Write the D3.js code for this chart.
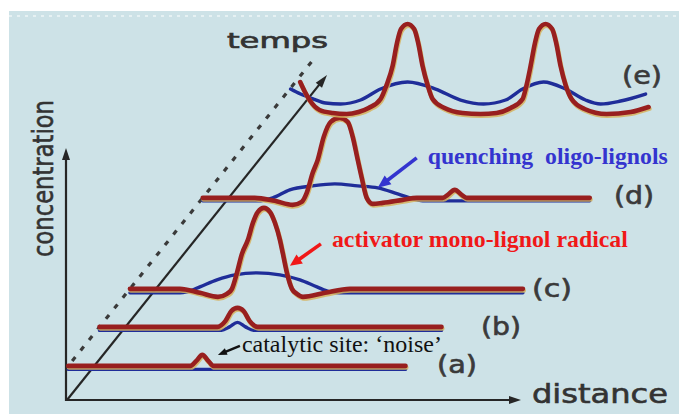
<!DOCTYPE html>
<html><head><meta charset="utf-8">
<script src="https://cdn.jsdelivr.net/npm/d3@7"></script>
<style>html,body{margin:0;padding:0;background:#fff;}svg{display:block;}</style>
</head><body>
<svg id="chart" width="679" height="414"></svg>
<script>
// ---------- data ----------
const profileLabels = ["(a)", "(b)", "(c)", "(d)", "(e)"];
const profileTimes = [1.05, 2.25, 3.42, 6.22, 8.83];           // position along the "temps" axis (0..10)

// activator (red) profiles: [distance 0..100, concentration]
const activatorA = [[0,0],[30.5,0],[32,0.5],[33.5,1.1],[35,0.5],[36.3,0],[84.3,0]];
const activatorB = [[0,0],[29.5,0],[31.5,0.6],[33,1.6],[34.5,1.9],[36,1.6],[37.5,0.6],[39.5,0],[85.5,0]];
const activatorC = [[0,0],[12.5,0],[17.5,-0.4],[22,-0.8],[24.25,-0.5],[25.5,0],[26.75,1.6],[28,3.5],[29.5,4.9],[30.75,6.6],[32,7.7],[33.5,8.1],[35,7.7],[36.25,6.6],[37.5,4.9],[38.25,3.5],[39.25,1.6],[40.5,0],[41.75,-0.5],[43.25,-0.8],[48.75,-0.4],[55,0],[98.25,0]];
const activatorD = [[0,0],[13,0],[18,-0.3],[22.5,-0.7],[24.75,-0.4],[26,0.5],[27.5,2.5],[28.75,3.8],[30.25,6.1],[32,7.6],[34.25,8],[36.25,7.6],[37.5,6.1],[38.75,3.8],[39.75,2],[41,0],[42.5,-0.6],[45,-0.5],[50,-0.2],[53.5,0],[60,0],[61.25,0.3],[63,0.8],[64.75,0.3],[66,0],[96.75,0]];
const activatorE = [[7.4,3.1],[8.6,2.1],[9.75,1.3],[12.25,0.3],[15.5,0],[19,-0.1],[22,0.1],[24.5,0.5],[27.5,1.4],[29,2.8],[30.5,4.7],[31.6,7.0],[32.6,8.4],[34.25,8.9],[35.9,8.4],[36.9,7.0],[38,4.7],[39.25,2.8],[40.5,1.4],[43.5,0.5],[48,0],[52.5,-0.1],[56.5,0],[60,0.5],[63,1.4],[64,2.8],[65,4.7],[66.1,7.0],[67.1,8.4],[68.75,8.9],[70.4,8.4],[71.4,7.0],[72.5,4.7],[73.75,2.8],[75.25,1.4],[78.5,0.4],[84,-0.1],[90,0.1],[94.5,0.6]];

// inhibitor (blue) profiles
const inhibitorA = [[0,-0.35],[84.3,-0.35]];
const inhibitorB = [[0,-0.35],[30.5,-0.35],[32.5,0],[34.5,0.45],[36.5,0],[38.5,-0.35],[85.5,-0.35]];
const inhibitorC = [[0,-0.4],[12.5,-0.4],[14.25,-0.3],[17.5,0.2],[21.75,0.9],[26.25,1.4],[31.75,1.6],[37.5,1.4],[42.5,0.9],[46.75,0.2],[50,-0.3],[52.5,-0.4],[98.25,-0.4]];
const inhibitorD = [[0,-0.3],[13.75,-0.3],[17.5,0],[21.75,0.8],[27.5,1.2],[33,1.4],[38.75,1.2],[43.75,1],[48.75,0.4],[53.5,-0.2],[55,-0.3],[96.75,-0.3]];
const inhibitorE = [[5,2.4],[7.5,1.9],[10.75,1.4],[13.75,1],[17.5,0.9],[22.5,1.3],[27.5,2.4],[34.25,3.1],[41.25,2.4],[47.5,1.3],[53.25,0.9],[58.75,1.3],[63,2.4],[68.25,3.1],[73.75,2.4],[78.75,1.3],[82.5,0.9],[87.5,1.2],[93.75,1.9]];

const axisTitles = ["concentration", "distance", "temps"];
const annotationTexts = ["quenching\u00A0\u00A0oligo-lignols", "activator mono-lignol radical", "catalytic site: \u2018noise\u2019"];
// annotation targets: [profile index, distance, concentration]
const annotationTargets = [[3, 43.75, 1.0], [2, 40, 2.3], [0, 37.4, 1.1]];

const activators = [activatorA, activatorB, activatorC, activatorD, activatorE];
const inhibitors = [inhibitorA, inhibitorB, inhibitorC, inhibitorD, inhibitorE];

// ---------- scales ----------
const tX = d3.scaleLinear().domain([0, 10]).range([67, 327]);
const tY = d3.scaleLinear().domain([0, 10]).range([400, 75]);
const timeShift = -26;                        // profiles start on the dashed guide
const xDist = d3.scaleLinear().domain([0, 100]).range([0, 400]);
const yConc = d3.scaleLinear().domain([0, 10]).range([0, -100]);

const svg = d3.select("#chart");
svg.append("rect").attr("x", 9).attr("y", 11).attr("width", 670).attr("height", 403).attr("fill", "#cde2e7");
svg.append("line").attr("x1", 9).attr("x2", 679).attr("y1", 16).attr("y2", 16)
  .attr("stroke", "#e6f1f3").attr("stroke-width", 2).attr("stroke-dasharray", "3,5");

const ink = "#262626";
function arrow(g, x1, y1, x2, y2, color, width, len, w) {
  const a = Math.atan2(y2 - y1, x2 - x1);
  const bx = x2 - len * Math.cos(a), by = y2 - len * Math.sin(a);
  g.append("line").attr("x1", x1).attr("y1", y1).attr("x2", bx + Math.cos(a)).attr("y2", by + Math.sin(a))
    .attr("stroke", color).attr("stroke-width", width);
  const px = -Math.sin(a) * w / 2, py = Math.cos(a) * w / 2;
  g.append("path").attr("d", `M${x2},${y2}L${bx + px},${by + py}L${bx - px},${by - py}Z`).attr("fill", color);
}

// ---------- axes ----------
const axes = svg.append("g");
const x0 = tX(0), y0 = tY(0);
arrow(axes, x0 - 1, y0, 521, y0, ink, 2.2, 12, 8);           // distance axis
arrow(axes, x0 - 1, y0 + 1, x0 - 1, 148, ink, 2.2, 12, 8);   // concentration axis
arrow(axes, x0, y0, tX(10), tY(10), ink, 2.2, 13, 8);        // time axis
axes.append("line")
  .attr("x1", tX(1.2) + timeShift).attr("y1", tY(1.2))
  .attr("x2", tX(10.4) + timeShift).attr("y2", tY(10.4))
  .attr("stroke", "#3a3a3a").attr("stroke-width", 3.2).attr("stroke-dasharray", "5,8.5");

const sans = "'DejaVu Sans', Verdana, sans-serif";
svg.append("text").text(axisTitles[0])
  .attr("transform", "translate(53,178.5) rotate(-90)")
  .attr("text-anchor", "middle").attr("font-family", sans).attr("font-size", 29)
  .attr("stroke", "#333").attr("stroke-width", 0.6)
  .attr("textLength", 157).attr("lengthAdjust", "spacingAndGlyphs")
  .attr("fill", "#333");
svg.append("text").text(axisTitles[1]).attr("x", 532).attr("y", 403)
  .attr("font-family", sans).attr("font-size", 26)
  .attr("stroke", "#333").attr("stroke-width", 0.6)
  .attr("textLength", 136).attr("lengthAdjust", "spacingAndGlyphs").attr("fill", "#333");
svg.append("text").text(axisTitles[2]).attr("x", 227).attr("y", 48)
  .attr("font-family", sans).attr("font-size", 21)
  .attr("stroke", "#333").attr("stroke-width", 0.7)
  .attr("textLength", 101).attr("lengthAdjust", "spacingAndGlyphs").attr("fill", "#333");

// ---------- profiles ----------
function originOf(i) { return [tX(profileTimes[i]) + timeShift, tY(profileTimes[i])]; }
function lineFor(i) {
  const [ox, oy] = originOf(i);
  return d3.line().x(d => ox + xDist(d[0])).y(d => oy + yConc(d[1])).curve(d3.curveMonotoneX);
}
const curves = svg.append("g").attr("fill", "none").attr("stroke-linecap", "round").attr("stroke-linejoin", "round");
profileLabels.forEach((lab, i) => {
  const line = lineFor(i);
  curves.append("path").attr("d", line(inhibitors[i])).attr("stroke", "#1f2d99").attr("stroke-width", 3.4);
  curves.append("path").attr("d", line(activators[i])).attr("stroke", "#d6b25c").attr("stroke-width", 4.6)
    .attr("transform", "translate(0.8,1.6)").attr("opacity", 0.85);
  curves.append("path").attr("d", line(activators[i])).attr("stroke", "#981f1f").attr("stroke-width", 4.6);
});

// profile labels
const labelX = [457, 501, 552, 634, 642];
const labelDy = [7, 8, 8, 6, -29];
profileLabels.forEach((lab, i) => {
  const [, oy] = originOf(i);
  svg.append("text").text(lab).attr("x", labelX[i]).attr("y", oy + labelDy[i])
    .attr("text-anchor", "middle").attr("font-family", sans).attr("font-size", 24)
    .attr("stroke", "#3a3a3a").attr("stroke-width", 0.6)
    .attr("textLength", 40).attr("lengthAdjust", "spacingAndGlyphs").attr("fill", "#3a3a3a");
});

// ---------- annotations ----------
const serif = "'Liberation Serif', 'Times New Roman', serif";
const annStyle = [
  { color: "#3434cf", weight: "bold", size: 24, tail: [39, -30], text: [50, -24], len: 240, aw: 3.6, hl: 13, hw: 11 },
  { color: "#f01818", weight: "bold", size: 24, tail: [31, -22], text: [42, -19], len: 296, aw: 3.6, hl: 12, hw: 11 },
  { color: "#111111", weight: "normal", size: 23, tail: [22, -9], text: [24, -3], len: 200, aw: 2.4, hl: 9, hw: 7 }
];
annotationTexts.forEach((t, k) => {
  const [pi, d, c] = annotationTargets[k];
  const [ox, oy] = originOf(pi);
  const tipX = ox + xDist(d), tipY = oy + yConc(c);
  const s = annStyle[k];
  const g = svg.append("g");
  arrow(g, tipX + s.tail[0], tipY + s.tail[1], tipX, tipY, s.color, s.aw, s.hl, s.hw);
  g.append("text").text(t).attr("x", tipX + s.text[0]).attr("y", tipY + s.text[1])
    .attr("font-family", serif).attr("font-weight", s.weight).attr("font-size", s.size)
    .attr("textLength", s.len).attr("lengthAdjust", "spacingAndGlyphs").attr("fill", s.color);
});
</script>
</body></html>
